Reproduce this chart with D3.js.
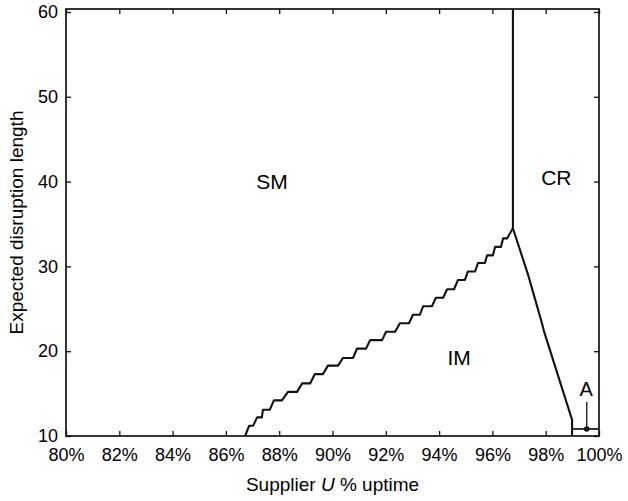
<!DOCTYPE html>
<html>
<head>
<meta charset="utf-8">
<script src="https://cdn.jsdelivr.net/npm/d3@7"></script>
<style>
  body { margin: 0; background: #fff; }
  text { font-family: "Liberation Sans", Arial, Helvetica, sans-serif; fill: #000; }
</style>
</head>
<body>
<svg id="chart"></svg>
<script>
// axis ticks
const xTicks = [80, 82, 84, 86, 88, 90, 92, 94, 96, 98, 100]
const yTicks = [10, 20, 30, 40, 50, 60]

// IM / SM boundary, one plateau per step (uptime %, disruption length)
const stepLen   = [11.2, 12.2, 13.1, 14.2, 15.2, 16.2, 17.3, 18.3, 19.2, 20.3, 21.3, 22.3, 23.3, 24.3, 25.3, 26.3, 27.3, 28.4, 29.4, 30.4, 31.3, 32.3, 33.3]
const stepStart = [86.87, 87.17, 87.39, 87.80, 88.33, 88.86, 89.34, 89.83, 90.39, 90.92, 91.41, 92.01, 92.53, 93.02, 93.40, 93.88, 94.30, 94.71, 95.08, 95.46, 95.80, 96.10, 96.40]
const stepEnd   = [87.02, 87.35, 87.65, 88.10, 88.67, 89.16, 89.64, 90.21, 90.77, 91.26, 91.86, 92.35, 92.87, 93.28, 93.73, 94.15, 94.56, 94.97, 95.35, 95.72, 96.02, 96.32, 96.55]
const stepFrom = [86.72, 10]
const peak = [96.77, 34.5]

// IM / CR boundary going down from the peak
const downX = [96.77, 97.34, 97.86, 97.94, 98.99, 98.99, 98.99]
const downY = [34.5, 29.0, 23.3, 22.3, 11.9, 10.83, 10]

// small region A
const aLine = [[98.99, 10.83], [100, 10.83]]
const aPoint = [99.54, 10.83]
const aArrowTop = 14.0

const regionNames = ["SM", "CR", "IM", "A"]
const regionX = [87.73, 98.4, 94.75, 99.52]
const regionY = [39.8, 40.2, 19.0, 15.3]

const W = 628, H = 501
const margin = {left: 66, right: 29, top: 9, bottom: 65}

const svg = d3.select('#chart').attr('width', W).attr('height', H)

const x = d3.scaleLinear().domain([80, 100]).range([margin.left, W - margin.right])
const y = d3.scaleLinear().domain([10, 60.35]).range([H - margin.bottom, margin.top])

const tickSize = 5

// bottom axis
svg.append('g')
  .attr('transform', `translate(0,${H - margin.bottom})`)
  .call(d3.axisBottom(x).tickValues(xTicks).tickSize(-tickSize).tickPadding(12).tickFormat(d => d + '%'))
  .call(g => g.select('.domain').remove())
  .call(g => g.selectAll('text').style('font-size', '18px').attr('font-family', null))
  .call(g => g.selectAll('line').attr('stroke', '#111').attr('stroke-width', 1.3))

// top axis (ticks only)
svg.append('g')
  .attr('transform', `translate(0,${margin.top})`)
  .call(d3.axisTop(x).tickValues(xTicks).tickSize(-tickSize).tickFormat(''))
  .call(g => g.select('.domain').remove())
  .call(g => g.selectAll('line').attr('stroke', '#111').attr('stroke-width', 1.3))

// left axis
svg.append('g')
  .attr('transform', `translate(${margin.left},0)`)
  .call(d3.axisLeft(y).tickValues(yTicks).tickSize(-tickSize).tickPadding(8))
  .call(g => g.select('.domain').remove())
  .call(g => g.selectAll('text').style('font-size', '18px').attr('font-family', null))
  .call(g => g.selectAll('line').attr('stroke', '#111').attr('stroke-width', 1.3))

// right axis (ticks only)
svg.append('g')
  .attr('transform', `translate(${W - margin.right},0)`)
  .call(d3.axisRight(y).tickValues(yTicks).tickSize(-tickSize).tickFormat(''))
  .call(g => g.select('.domain').remove())
  .call(g => g.selectAll('line').attr('stroke', '#111').attr('stroke-width', 1.3))

// frame
svg.append('rect')
  .attr('x', margin.left).attr('y', margin.top)
  .attr('width', W - margin.left - margin.right)
  .attr('height', H - margin.top - margin.bottom)
  .attr('fill', 'none').attr('stroke', '#111').attr('stroke-width', 1.7)

const line = d3.line().x(d => x(d[0])).y(d => y(d[1]))

// staircase from the axis to the peak
let stairs = [stepFrom]
stepLen.forEach((v, i) => {
  stairs.push([stepStart[i], v])
  stairs.push([stepEnd[i], v])
})
stairs.push(peak)

const curves = svg.append('g')
  .attr('fill', 'none').attr('stroke', '#111').attr('stroke-width', 2.1)
  .attr('stroke-linejoin', 'round')

curves.append('path').attr('d', line(stairs))
curves.append('path').attr('d', line([peak, [peak[0], y.domain()[1]]]))
curves.append('path').attr('d', line(downX.map((d, i) => [d, downY[i]])))
curves.append('path').attr('d', line(aLine)).attr('stroke-width', 1.7)

// arrow pointing at A
curves.append('path').attr('d', line([[aPoint[0], aArrowTop], aPoint])).attr('stroke-width', 1.3)
svg.append('circle')
  .attr('cx', x(aPoint[0])).attr('cy', y(aPoint[1])).attr('r', 2.8)
  .attr('fill', '#111')

// region labels
svg.append('g')
  .selectAll('text')
  .data(regionNames)
  .join('text')
  .attr('x', (d, i) => x(regionX[i]))
  .attr('y', (d, i) => y(regionY[i]))
  .attr('text-anchor', 'middle')
  .attr('dominant-baseline', 'middle')
  .style('font-size', (d, i) => i < 3 ? '21px' : '20px')
  .text(d => d)

// axis titles
const xt = svg.append('text')
  .attr('x', (margin.left + W - margin.right) / 2)
  .attr('y', 491)
  .attr('text-anchor', 'middle')
  .style('font-size', '19px')
xt.append('tspan').text('Supplier ')
xt.append('tspan').style('font-style', 'italic').text('U')
xt.append('tspan').text(' % uptime')

svg.append('text')
  .attr('transform', `translate(23,${(margin.top + H - margin.bottom) / 2}) rotate(-90)`)
  .attr('text-anchor', 'middle')
  .style('font-size', '19px')
  .text('Expected disruption length')
</script>
</body>
</html>
